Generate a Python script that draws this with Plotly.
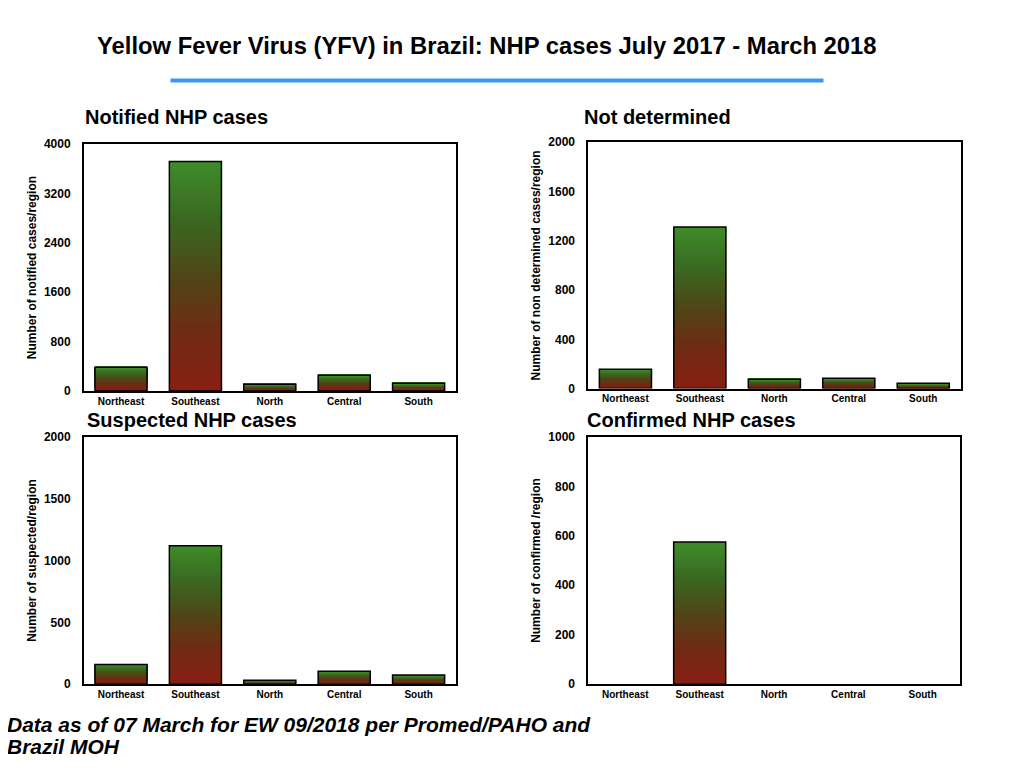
import plotly.graph_objects as go

# ---------------- data ----------------
regions = ["Northeast", "Southeast", "North", "Central", "South"]
notified = [385, 3720, 110, 255, 125]
not_determined = [157, 1312, 76, 84, 43]
suspected = [159, 1120, 32, 105, 73]
confirmed = [0, 575, 0, 0, 0]

notified_ticks = [0, 800, 1600, 2400, 3200, 4000]
not_determined_ticks = [0, 400, 800, 1200, 1600, 2000]
suspected_ticks = [0, 500, 1000, 1500, 2000]
confirmed_ticks = [0, 200, 400, 600, 800, 1000]

main_title = "Yellow Fever Virus (YFV) in Brazil: NHP cases July 2017 - March 2018"
footnote_lines = ["Data as of 07 March for EW 09/2018 per Promed/PAHO and", "Brazil MOH"]

W, H = 1024, 768
FONT = "Liberation Sans, Arial, Helvetica, sans-serif"

# gradient stops bottom -> top
stops = [(0.0, (136, 31, 19)), (0.25, (112, 43, 20)), (0.5, (80, 70, 23)),
         (0.75, (58, 104, 33)), (1.0, (63, 139, 41))]


def grad(t):
    for (t0, c0), (t1, c1) in zip(stops[:-1], stops[1:]):
        if t <= t1:
            f = (t - t0) / (t1 - t0) if t1 > t0 else 0
            return "rgb(%d,%d,%d)" % tuple(round(a + (b - a) * f) for a, b in zip(c0, c1))
    return "rgb(%d,%d,%d)" % stops[-1][1]


# page-pixel -> paper fraction (compensating for page offset)
def px(x):
    return (x - 7.5) / W


def py(y):
    return 1 - ((y - 14) / 0.982) / H


panels = [
    dict(vals=notified, ticks=notified_ticks, rng=[0, 4000],
         ytitle="Number of notified cases/region", title="Notified NHP cases",
         dom_x=[83.3, 455.3], dom_y=[143.3, 390.0], tpos=(82, 116)),
    dict(vals=not_determined, ticks=not_determined_ticks, rng=[0, 2000],
         ytitle="Number of non determined cases/region", title="Not determined",
         dom_x=[587.7, 960.0], dom_y=[141.3, 387.7], tpos=(581, 116)),
    dict(vals=suspected, ticks=suspected_ticks, rng=[0, 2000],
         ytitle="Number of suspected/region", title="Suspected NHP cases",
         dom_x=[83.3, 455.3], dom_y=[436.0, 683.3], tpos=(84, 419)),
    dict(vals=confirmed, ticks=confirmed_ticks, rng=[0, 1000],
         ytitle="Number of confirmed /region", title="Confirmed NHP cases",
         dom_x=[587.7, 959.3], dom_y=[436.0, 683.3], tpos=(584, 419)),
]

fig = go.Figure()
N = 60
annotations = []
layout_axes = {}
for i, p in enumerate(panels, start=1):
    xa = "x" if i == 1 else "x%d" % i
    ya = "y" if i == 1 else "y%d" % i
    vals = p["vals"]
    for k in range(N):
        frac = k / N
        fig.add_trace(go.Bar(
            x=regions, y=[v * (1 - frac) for v in vals], base=[v * frac for v in vals],
            width=0.7, marker=dict(color=grad(k / (N - 1)), line=dict(width=0)),
            xaxis=xa, yaxis=ya, showlegend=False, hoverinfo="skip"))
    fig.add_trace(go.Bar(
        x=regions, y=[v if v > 0 else None for v in vals], width=0.7,
        marker=dict(color="rgba(0,0,0,0)", line=dict(color="black", width=1.5)),
        xaxis=xa, yaxis=ya, showlegend=False, hovertemplate="%{x}: %{y}<extra></extra>"))

    kx = "xaxis" if i == 1 else "xaxis%d" % i
    ky = "yaxis" if i == 1 else "yaxis%d" % i
    layout_axes[kx] = dict(
        domain=[px(p["dom_x"][0]), px(p["dom_x"][1])], anchor=ya,
        showline=True, mirror=True, linecolor="black", linewidth=1.5,
        showgrid=False, zeroline=False, ticks="",
        tickfont=dict(family=FONT, size=10, color="black", weight="bold"),
        fixedrange=True)
    layout_axes[ky] = dict(
        domain=[py(p["dom_y"][1]), py(p["dom_y"][0])], anchor=xa,
        range=p["rng"], tickvals=p["ticks"],
        showline=True, mirror=True, linecolor="black", linewidth=1.5,
        showgrid=False, zeroline=False, ticks="outside", ticklen=9,
        tickcolor="rgba(0,0,0,0)",
        tickfont=dict(family=FONT, size=12, color="black", weight="bold"),
        title=dict(text=p["ytitle"], standoff=5,
                   font=dict(family=FONT, size=12, color="black", weight="bold")),
        fixedrange=True)
    annotations.append(dict(
        text=p["title"], xref="paper", yref="paper", x=px(p["tpos"][0]), y=py(p["tpos"][1]),
        xanchor="left", yanchor="middle", showarrow=False,
        font=dict(family=FONT, size=20, color="black", weight="bold")))

annotations.append(dict(
    text=main_title, xref="paper", yref="paper", x=px(486.5), y=py(45),
    xanchor="center", yanchor="middle", showarrow=False,
    font=dict(family=FONT, size=23.8, color="black", weight="bold")))
for line, ypos in zip(footnote_lines, [724, 746]):
    annotations.append(dict(
        text="<i>" + line + "</i>", xref="paper", yref="paper",
        x=px(4), y=py(ypos), xanchor="left", yanchor="middle", align="left", showarrow=False,
        font=dict(family=FONT, size=21, color="black", weight="bold")))

fig.update_layout(
    width=W, height=H, margin=dict(l=0, r=0, t=0, b=0),
    paper_bgcolor="white", plot_bgcolor="white", barmode="overlay",
    annotations=annotations,
    shapes=[dict(type="line", xref="paper", yref="paper", x0=px(170), x1=px(823),
                 y0=py(79.5), y1=py(79.5), line=dict(color="#3b97f2", width=4))],
    **layout_axes)

fig.write_html("out.html")
